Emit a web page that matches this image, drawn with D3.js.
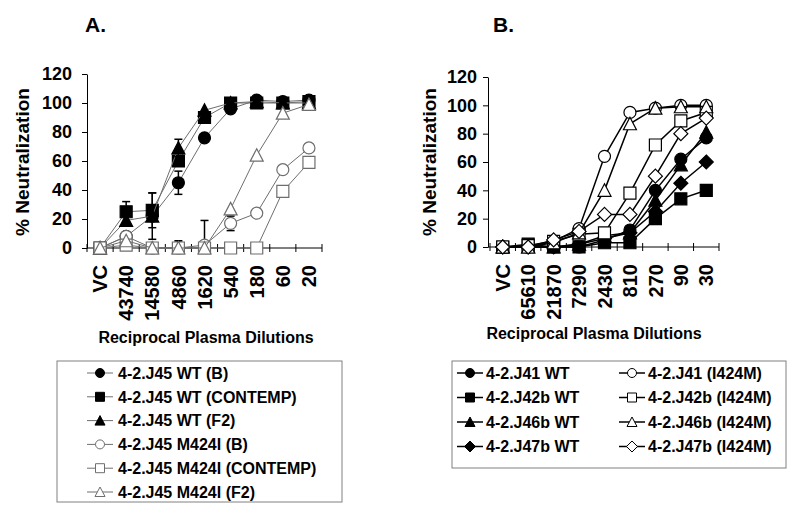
<!DOCTYPE html>
<html><head><meta charset="utf-8">
<script src="https://cdn.jsdelivr.net/npm/d3@7"></script>
<style>body{margin:0;background:#fff} text{font-family:Arial,"Liberation Sans",sans-serif;}</style>
</head><body><svg id="c" width="800" height="510"></svg>
<script>
// ---------- DATA ----------
const yTicks = [0, 20, 40, 60, 80, 100, 120];

const catsA = ["VC", "43740", "14580", "4860", "1620", "540", "180", "60", "20"];
const a_wtB        = [0, 8, 22, 45, 76, 96, 102, 101, 102];
const a_wtContemp  = [0, 25, 26, 60, 90, 100, 100, 100, 101];
const a_wtF2       = [0, 19, 22, 69, 95, 100, 101, 100, 100];
const a_mB         = [0, 8, 0, 0, 2, 17, 24, 54, 69];
const a_mContemp   = [0, 2, 0, 0, 0, 0, 0, 39, 59];
const a_mF2        = [0, 5, 0, 0, 0, 27, 64, 93, 99];
// error bar half-widths
const a_wtB_err       = [0, 0, 0, 8, 0, 0, 0, 0, 0];
const a_wtContemp_err = [0, 7, 12, 0, 0, 0, 0, 0, 0];
const a_wtF2_err      = [0, 0, 16, 6, 0, 0, 0, 0, 0];
const a_mB_err        = [0, 0, 0, 0, 17, 5, 0, 0, 0];
const a_mF2_err       = [0, 0, 0, 5, 0, 0, 0, 0, 0];

const catsB = ["VC", "65610", "21870", "7290", "2430", "810", "270", "90", "30"];
const b_j41wt   = [0, 0, 0, 0, 5, 12, 40, 62, 77];
const b_j42wt   = [0, 2, 0, 0, 3, 3, 20, 34, 40];
const b_j46wt   = [0, 0, 0, 2, 8, 10, 33, 58, 81];
const b_j47wt   = [0, 0, 0, 2, 6, 10, 25, 45, 60];
const b_j41m    = [0, 0, 4, 13, 64, 95, 98, 100, 100];
const b_j42m    = [0, 1, 4, 9, 10, 38, 72, 89, 95];
const b_j46m    = [0, 0, 3, 10, 40, 87, 98, 99, 99];
const b_j47m    = [0, 0, 5, 11, 23, 23, 50, 80, 91];

const namesA = ["4-2.J45 WT (B)", "4-2.J45 WT (CONTEMP)", "4-2.J45 WT (F2)",
                "4-2.J45 M424I (B)", "4-2.J45 M424I (CONTEMP)", "4-2.J45 M424I (F2)"];
const namesB = ["4-2.J41 WT", "4-2.J42b WT", "4-2.J46b WT", "4-2.J47b WT",
                "4-2.J41 (I424M)", "4-2.J42b (I424M)", "4-2.J46b (I424M)", "4-2.J47b (I424M)"];

// ---------- DRAWING ----------
const svg = d3.select("#c");
const FONT = 'Arial, "Liberation Sans", sans-serif';

function shapePath(type, s) {
  const h = s / 2;
  if (type === "circle") return d3.symbol(d3.symbolCircle, Math.PI * h * h)();
  if (type === "square") return `M${-h},${-h}H${h}V${h}H${-h}Z`;
  if (type === "triangle") return `M0,${-h - 0.5}L${h + 0.5},${h}L${-h - 0.5},${h}Z`;
  if (type === "diamond") return `M0,${-h - 1}L${h + 1},0L0,${h + 1}L${-h - 1},0Z`;
}

const seriesA = [
  { name: namesA[0], shape: "circle", filled: true, values: a_wtB, err: a_wtB_err },
  { name: namesA[1], shape: "square", filled: true, values: a_wtContemp, err: a_wtContemp_err },
  { name: namesA[2], shape: "triangle", filled: true, values: a_wtF2, err: a_wtF2_err },
  { name: namesA[3], shape: "circle", filled: false, values: a_mB, err: a_mB_err },
  { name: namesA[4], shape: "square", filled: false, values: a_mContemp, err: null },
  { name: namesA[5], shape: "triangle", filled: false, values: a_mF2, err: a_mF2_err },
];
const seriesB = [
  { name: namesB[0], shape: "circle", filled: true, values: b_j41wt },
  { name: namesB[1], shape: "square", filled: true, values: b_j42wt },
  { name: namesB[2], shape: "triangle", filled: true, values: b_j46wt },
  { name: namesB[3], shape: "diamond", filled: true, values: b_j47wt },
  { name: namesB[4], shape: "circle", filled: false, values: b_j41m },
  { name: namesB[5], shape: "square", filled: false, values: b_j42m },
  { name: namesB[6], shape: "triangle", filled: false, values: b_j46m },
  { name: namesB[7], shape: "diamond", filled: false, values: b_j47m },
];

function drawPanel(cfg) {
  const g = svg.append("g");
  const x = d3.scaleBand().domain(cfg.cats).range(cfg.xRange);
  const y = d3.scaleLinear().domain([0, 120]).range(cfg.yRange);
  const cx = d => x(d) + x.bandwidth() / 2;

  // title
  g.append("text").attr("x", cfg.titleX).attr("y", 32).text(cfg.title)
    .style("font-size", "21px").style("font-weight", "bold").style("font-family", FONT);

  // y axis
  const ya = g.append("g").attr("transform", `translate(${cfg.axisX},0)`)
    .call(d3.axisLeft(y).tickValues(yTicks).tickSize(5).tickSizeOuter(0).tickPadding(cfg.yPad));
  ya.select(".domain").attr("stroke", "#000");
  ya.selectAll(".tick line").attr("stroke", "#000");
  ya.selectAll("text").attr("fill", "#000").style("font-size", "18px")
    .style("font-weight", "bold").style("font-family", FONT);

  // x axis (labels via d3 axis, rotated)
  const xa = g.append("g").attr("transform", `translate(0,${y(0)})`)
    .call(d3.axisBottom(x).tickSize(0).tickSizeOuter(0));
  xa.select(".domain").remove();
  xa.selectAll("text").attr("fill", "#000").attr("y", 0).attr("x", -cfg.xLabOff)
    .attr("dy", "0.36em").attr("transform", "rotate(-90)").style("text-anchor", "end")
    .style("font-size", "20px").style("font-weight", "bold").style("font-family", FONT);
  g.append("line").attr("x1", cfg.axisX).attr("x2", cfg.xRange[1])
    .attr("y1", y(0)).attr("y2", y(0)).attr("stroke", "#000");
  const bounds = d3.range(cfg.cats.length + 1).map(i => cfg.xRange[0] + i * x.step());
  g.selectAll(".xt").data(bounds).join("line").attr("class", "xt")
    .attr("x1", d => d).attr("x2", d => d).attr("y1", y(0) - 4).attr("y2", y(0) + 4)
    .attr("stroke", "#000");

  // axis titles
  g.append("text").attr("transform", `translate(${cfg.yTitleX},${cfg.yTitleY}) rotate(-90)`)
    .attr("text-anchor", "middle").attr("dy", "0.35em").text("% Neutralization")
    .style("font-size", "19px").style("font-weight", "bold").style("font-family", FONT);
  g.append("text").attr("x", cfg.xTitleX).attr("y", cfg.xTitleY).attr("text-anchor", "middle")
    .text("Reciprocal Plasma Dilutions")
    .style("font-size", "16px").style("font-weight", "bold").style("font-family", FONT);

  // series
  const line = d3.line().x(d => d.x).y(d => d.y);
  cfg.series.forEach(s => {
    const pts = s.values.map((v, i) => ({ x: cx(cfg.cats[i]), v, y: y(v), e: s.err ? s.err[i] : 0 }));
    const sg = g.append("g");
    sg.append("path").attr("d", line(pts)).attr("fill", "none")
      .attr("stroke", cfg.lineColor).attr("stroke-width", cfg.lineWidth);
    pts.filter(p => p.e > 0).forEach(p => {
      const top = y(p.v + p.e), bot = y(Math.max(0, p.v - p.e));
      sg.append("line").attr("x1", p.x).attr("x2", p.x).attr("y1", top).attr("y2", bot)
        .attr("stroke", "#000").attr("stroke-width", 1.5);
      sg.append("line").attr("x1", p.x - 4).attr("x2", p.x + 4).attr("y1", top).attr("y2", top)
        .attr("stroke", "#000").attr("stroke-width", 1.5);
      if (p.v - p.e > 0)
        sg.append("line").attr("x1", p.x - 4).attr("x2", p.x + 4).attr("y1", bot).attr("y2", bot)
          .attr("stroke", "#000").attr("stroke-width", 1.5);
    });
    sg.selectAll(".m").data(pts).join("path")
      .attr("transform", d => `translate(${d.x},${d.y})`)
      .attr("d", shapePath(s.shape, cfg.markerSize))
      .attr("fill", s.filled ? "#000" : "#fff")
      .attr("stroke", s.filled ? "#000" : cfg.openStroke).attr("stroke-width", 1.2);
  });

  // legend
  const L = cfg.legend;
  g.append("rect").attr("x", L.x).attr("y", L.y).attr("width", L.w).attr("height", L.h)
    .attr("fill", "#fff").attr("stroke", "#808080").attr("stroke-width", 1);
  cfg.series.forEach((s, i) => {
    const col = Math.floor(i / L.rows), row = i % L.rows;
    const lx = L.colX[col], ly = L.rowY0 + row * L.rowStep;
    g.append("line").attr("x1", lx - L.half).attr("x2", lx + L.half).attr("y1", ly).attr("y2", ly)
      .attr("stroke", cfg.lineColor).attr("stroke-width", cfg.lineWidth);
    g.append("path").attr("transform", `translate(${lx},${ly})`)
      .attr("d", shapePath(s.shape, 9))
      .attr("fill", s.filled ? "#000" : "#fff")
      .attr("stroke", s.filled ? "#000" : cfg.openStroke).attr("stroke-width", 1);
    g.append("text").attr("x", lx + L.textOff).attr("y", ly).attr("dy", "0.36em").text(s.name)
      .style("font-size", "16px").style("font-weight", "bold").style("font-family", FONT);
  });
}

drawPanel({
  title: "A.", titleX: 85,
  cats: catsA, xRange: [87, 322], yRange: [248, 74], axisX: 87, yPad: 10, xLabOff: 17,
  yTitleX: 22, yTitleY: 162, xTitleX: 206, xTitleY: 343,
  series: seriesA, lineColor: "#6e6e6e", lineWidth: 1, openStroke: "#6e6e6e", markerSize: 12,
  legend: { x: 57, y: 361, w: 285, h: 141, rows: 6, colX: [100], rowY0: 373, rowStep: 23.8, half: 13, textOff: 18 }
});
drawPanel({
  title: "B.", titleX: 493,
  cats: catsB, xRange: [490, 719], yRange: [247, 77], axisX: 488, yPad: 6, xLabOff: 17,
  yTitleX: 429, yTitleY: 162, xTitleX: 594, xTitleY: 339,
  series: seriesB, lineColor: "#000", lineWidth: 1.5, openStroke: "#000", markerSize: 12,
  legend: { x: 452, y: 361, w: 334, h: 107, rows: 4, colX: [470, 632], rowY0: 373, rowStep: 24.5, half: 13, textOff: 16 }
});
</script></body></html>
